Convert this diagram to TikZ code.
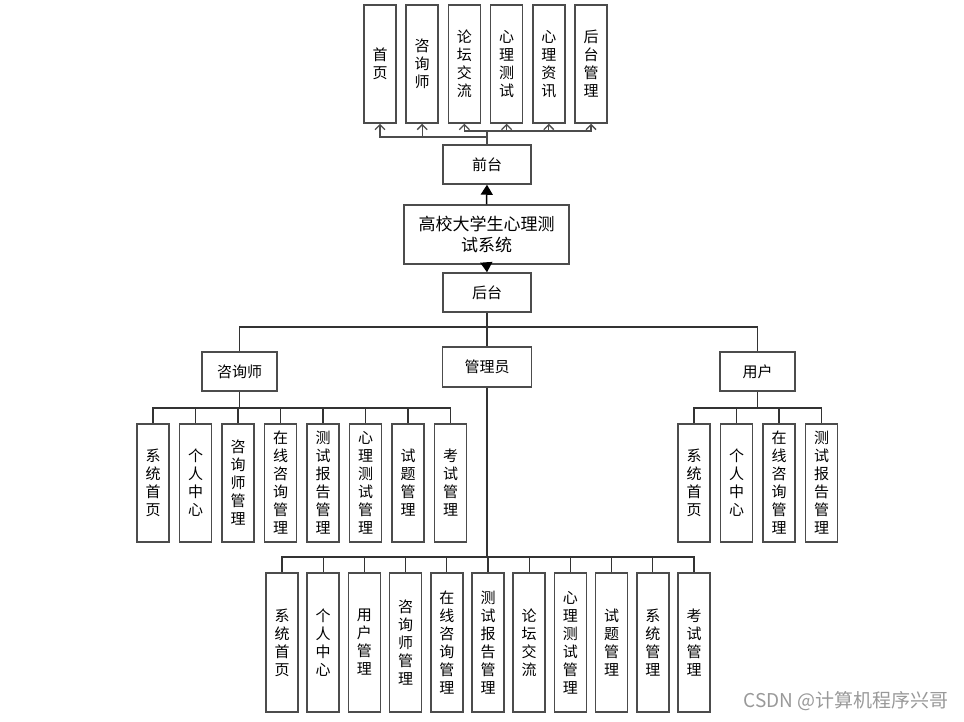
\documentclass[tikz,border=0pt]{standalone}
\usepackage{fontspec}
\newfontfamily\cjk{Noto Sans CJK SC}
\usetikzlibrary{arrows.meta}

\begin{document}
\begin{tikzpicture}[
  x=1pt,
  y=-1pt,
]

  \tikzstyle{modnode}=[draw=black!70,rectangle,fill=white,line width=1.5pt,minimum height=39pt,minimum width=88pt,inner sep=1pt,font=\cjk\fontsize{15}{18}\selectfont]
  \tikzstyle{rolenode}=[modnode,minimum width=75pt]
  \tikzstyle{sysnode}=[modnode,minimum width=165pt,minimum height=59pt,align=center,font=\cjk\fontsize{17}{21}\selectfont]
  \tikzstyle{itemnode}=[draw=black!70,rectangle,fill=white,line width=1.5pt,minimum width=32pt,minimum height=118pt,inner sep=0pt,align=center,node distance=42.5pt,font=\cjk\fontsize{15}{18}\selectfont]
  \tikzstyle{topnode}=[itemnode,node distance=42.2pt]
  \tikzstyle{itemnodelong}=[itemnode,minimum height=139pt,node distance=41.2pt]
  \tikzstyle{marknode}=[anchor=east,text=black!40,font=\cjk\fontsize{19}{22}\selectfont]

  \tikzstyle{toplink}=[draw=black!70,line width=1.3pt,-{Straight Barb[length=5pt,width=10pt]}]
  \tikzstyle{mainlink}=[draw=black,line width=1.5pt,-{Triangle[length=10pt,width=12pt]}]
  \tikzstyle{link}=[draw=black!80,line width=1.3pt]

  \useasboundingbox (0,0) rectangle (964,721);

  % top modules
  \node[topnode] (t1) at (380,64) {首\\页};
  \node[topnode] (t2) [right of=t1] {咨\\询\\师};
  \node[topnode] (t3) [right of=t2] {论\\坛\\交\\流};
  \node[topnode] (t4) [right of=t3] {心\\理\\测\\试};
  \node[topnode] (t5) [right of=t4] {心\\理\\资\\讯};
  \node[topnode] (t6) [right of=t5] {后\\台\\管\\理};

  \node[modnode] (qt) at (487,164.5) {前台};
  \node[sysnode] (sys) at (486.5,234.5) {高校大学生心理测\\试系统};
  \node[modnode] (ht) at (487,292.5) {后台};

  % roles
  \node[rolenode] (zx) at (239.5,371.5) {咨询师};
  \node[modnode,minimum width=89pt,minimum height=40pt] (gl) at (487,367) {管理员};
  \node[rolenode] (yh) at (757.5,371.5) {用户};

  % counsellor
  \node[itemnode] (zx1) at (153,483) {系\\统\\首\\页};
  \node[itemnode] (zx2) [right of=zx1] {个\\人\\中\\心};
  \node[itemnode] (zx3) [right of=zx2] {咨\\询\\师\\管\\理};
  \node[itemnode] (zx4) [right of=zx3] {在\\线\\咨\\询\\管\\理};
  \node[itemnode] (zx5) [right of=zx4] {测\\试\\报\\告\\管\\理};
  \node[itemnode] (zx6) [right of=zx5] {心\\理\\测\\试\\管\\理};
  \node[itemnode] (zx7) [right of=zx6] {试\\题\\管\\理};
  \node[itemnode] (zx8) [right of=zx7] {考\\试\\管\\理};

  % user
  \node[itemnode] (yh1) at (694,483) {系\\统\\首\\页};
  \node[itemnode] (yh2) [right of=yh1] {个\\人\\中\\心};
  \node[itemnode] (yh3) [right of=yh2] {在\\线\\咨\\询\\管\\理};
  \node[itemnode] (yh4) [right of=yh3] {测\\试\\报\\告\\管\\理};

  % admin
  \node[itemnodelong] (gl1) at (282,642.5) {系\\统\\首\\页};
  \node[itemnodelong] (gl2) [right of=gl1] {个\\人\\中\\心};
  \node[itemnodelong] (gl3) [right of=gl2] {用\\户\\管\\理};
  \node[itemnodelong] (gl4) [right of=gl3] {咨\\询\\师\\管\\理};
  \node[itemnodelong] (gl5) [right of=gl4] {在\\线\\咨\\询\\管\\理};
  \node[itemnodelong] (gl6) [right of=gl5] {测\\试\\报\\告\\管\\理};
  \node[itemnodelong] (gl7) [right of=gl6] {论\\坛\\交\\流};
  \node[itemnodelong] (gl8) [right of=gl7] {心\\理\\测\\试\\管\\理};
  \node[itemnodelong] (gl9) [right of=gl8] {试\\题\\管\\理};
  \node[itemnodelong] (gl10) [right of=gl9] {系\\统\\管\\理};
  \node[itemnodelong] (gl11) [right of=gl10] {考\\试\\管\\理};

  \node[marknode] (mark) at (952,701) {CSDN @计算机程序兴哥};

  % bus points
  \coordinate (qtbusl) at (487,137);
  \coordinate (qtbusr) at (487,131);
  \coordinate (htbus) at (487,327);
  \coordinate (zxbus) at (239.5,408);
  \coordinate (yhbus) at (757.5,408);
  \coordinate (glbus) at (487,557);

  % links
  \draw[toplink] (qt.north) -- (qtbusl) -| (t1.south);
  \draw[toplink] (qtbusl) -| (t2.south);
  \draw[toplink] (qt.north) -- (qtbusr) -| (t3.south);
  \draw[toplink] (qtbusr) -| (t4.south);
  \draw[toplink] (qtbusr) -| (t5.south);
  \draw[toplink] (qtbusr) -| (t6.south);

  \draw[mainlink] (sys.north) -- (qt.south);
  \draw[mainlink] (sys.south) -- (ht.north);

  \draw[link] (ht.south) -- (htbus) -| (zx.north);
  \draw[link] (htbus) -| (yh.north);
  \draw[link] (htbus) -- (gl.north);

  \draw[link] (zx.south) -- (zxbus) -| (zx1.north);
  \draw[link] (zxbus) -| (zx2.north);
  \draw[link] (zxbus) -| (zx3.north);
  \draw[link] (zxbus) -| (zx4.north);
  \draw[link] (zxbus) -| (zx5.north);
  \draw[link] (zxbus) -| (zx6.north);
  \draw[link] (zxbus) -| (zx7.north);
  \draw[link] (zxbus) -| (zx8.north);

  \draw[link] (yh.south) -- (yhbus) -| (yh1.north);
  \draw[link] (yhbus) -| (yh2.north);
  \draw[link] (yhbus) -| (yh3.north);
  \draw[link] (yhbus) -| (yh4.north);

  \draw[link] (gl.south) -- (glbus) -| (gl1.north);
  \draw[link] (glbus) -| (gl2.north);
  \draw[link] (glbus) -| (gl3.north);
  \draw[link] (glbus) -| (gl4.north);
  \draw[link] (glbus) -| (gl5.north);
  \draw[link] (glbus) -| (gl6.north);
  \draw[link] (glbus) -| (gl7.north);
  \draw[link] (glbus) -| (gl8.north);
  \draw[link] (glbus) -| (gl9.north);
  \draw[link] (glbus) -| (gl10.north);
  \draw[link] (glbus) -| (gl11.north);

\end{tikzpicture}
\end{document}
